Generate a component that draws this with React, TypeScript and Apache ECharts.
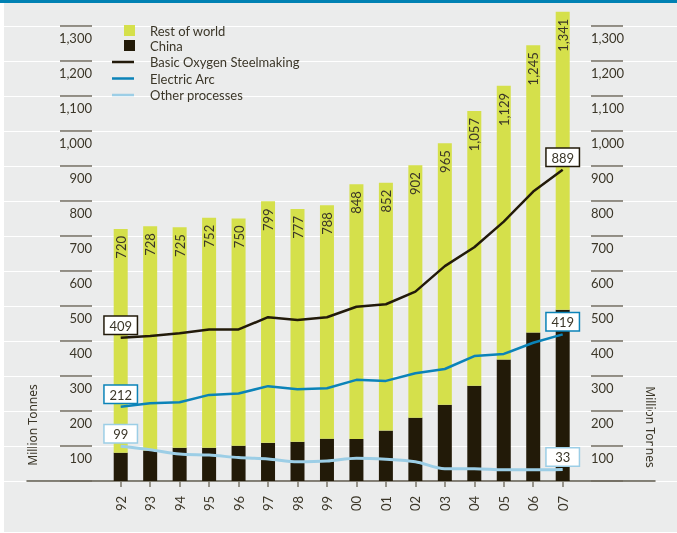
import React, { useEffect, useRef } from "react";
import * as echarts from "echarts";

const categories = ["92", "93", "94", "95", "96", "97", "98", "99", "00", "01", "02", "03", "04", "05", "06", "07"];
const totals = [720, 728, 725, 752, 750, 799, 777, 788, 848, 852, 902, 965, 1057, 1129, 1245, 1341];
const china = [81, 87, 95, 95, 101, 109, 112, 121, 120, 144, 181, 218, 272, 347, 424, 489];
const basicOxygen = [409, 414, 422, 433, 433, 468, 460, 468, 498, 505, 541, 614, 668, 741, 827, 889];
const electricArc = [212, 222, 225, 246, 250, 271, 262, 265, 289, 286, 308, 320, 357, 363, 395, 419];
const otherProcesses = [99, 89, 77, 74, 67, 63, 55, 57, 65, 62, 55, 35, 35, 32, 32, 33];
const yMin = 0;
const yMax = 1300;
const yStep = 100;

const FONT = "Lato, 'Noto Sans', sans-serif";
const FONT2 = "'Noto Sans', 'Open Sans', sans-serif";
const TEXT = "#3b3628";
const C_ROW = "#d5e04b";
const C_CHINA = "#221a08";
const C_BOS = "#221a0a";
const C_EAF = "#0b83b8";
const C_OTHER = "#9ccee6";

export default function App() {
  const ref = useRef<HTMLDivElement>(null);
  useEffect(() => {
    if (!ref.current) return;
    const chart = echarts.init(ref.current, undefined, { renderer: "svg" });
    const rest = totals.map((t, i) => t - china[i]);

    const lineData = (arr: number[], color: string) =>
      arr.map((v, i) => {
        const item: any = { value: v };
        if (i === 0 || i === arr.length - 1) {
          item.label = {
            show: true,
            position: "top",
            distance: 4,
            formatter: String(v),
            color: TEXT,
            fontFamily: FONT,
            fontSize: 13,
            backgroundColor: "#ffffff",
            borderColor: color,
            borderWidth: 1.5,
            width: 22,
            align: "center",
            padding: [2, 5, 1, 5],
            lineHeight: 14,
          };
        }
        return item;
      });

    const axisLabelFmt = (v: number) => (v === 0 ? "" : v.toLocaleString("en-US"));

    const lineSeries = (name: string, arr: number[], color: string, width: number, smooth: number | boolean) => ({
      name,
      type: "line",
      xAxisIndex: 2,
      yAxisIndex: 3,
      symbol: "circle",
      symbolSize: 0,
      showSymbol: true,
      smooth,
      clip: false,
      z: 5,
      lineStyle: { color, width },
      itemStyle: { color },
      data: lineData(arr, color),
    });

    chart.setOption({
      animation: false,
      backgroundColor: "transparent",
      textStyle: { fontFamily: FONT },
      graphic: [
        { type: "rect", z: -10, shape: { x: 4, y: 0, width: 673, height: 532 }, style: { fill: "#ebecec" } },
        { type: "rect", z: 10, shape: { x: 0, y: 0, width: 677, height: 3 }, style: { fill: "#0081b3" } },
        {
          type: "text",
          x: 32,
          y: 425,
          rotation: Math.PI / 2,
          style: { text: "Million Tonnes", fill: TEXT, fontSize: 12, fontFamily: FONT2, align: "center", verticalAlign: "middle" },
        },
        {
          type: "text",
          x: 650,
          y: 427,
          rotation: -Math.PI / 2,
          style: { text: "Million Tonnes", fill: TEXT, fontSize: 12, fontFamily: FONT2, align: "center", verticalAlign: "middle" },
        },
      ],
      legend: [
        {
          orient: "vertical",
          left: 124,
          top: 23,
          padding: 0,
          itemWidth: 11,
          itemHeight: 11,
          itemGap: 0,
          icon: "rect",
          data: ["Rest of world", "China"],
          textStyle: { color: TEXT, fontSize: 13, fontFamily: FONT, lineHeight: 15, padding: [0, 0, 0, 10] },
        },
        {
          orient: "vertical",
          left: 112,
          top: 54.5,
          padding: 0,
          itemWidth: 22,
          itemHeight: 2.5,
          itemGap: 1.5,
          icon: "rect",
          data: ["Basic Oxygen Steelmaking", "Electric Arc", "Other processes"],
          textStyle: { color: TEXT, fontSize: 13, fontFamily: FONT, lineHeight: 15, padding: [0, 0, 0, 11] },
        },
      ],
      grid: [
        { left: 0, right: 0, top: 26, bottom: 52 },
        { left: 27, right: 22, top: 26, bottom: 52 },
        { left: 105.97, right: 99.57, top: 26, bottom: 52 },
      ],
      xAxis: [
        { type: "value", gridIndex: 0, show: false, min: 0, max: 1 },
        {
          type: "value",
          gridIndex: 1,
          min: 0,
          max: 1,
          splitLine: { show: false },
          axisLine: { show: true, lineStyle: { color: "#5e594c", width: 1.5 } },
          axisTick: { show: false },
          axisLabel: { show: false },
        },
        {
          type: "category",
          gridIndex: 2,
          data: categories,
          axisLine: { show: false },
          axisTick: { show: true, alignWithLabel: true, interval: 0, length: 6, lineStyle: { color: "#7a766a", width: 1.5 } },
          axisLabel: {
            interval: 0,
            rotate: 90,
            margin: 15,
            color: TEXT,
            fontSize: 13,
            fontFamily: FONT,
          },
        },
      ],
      yAxis: [
        {
          type: "value",
          gridIndex: 0,
          position: "left",
          offset: -92,
          min: yMin,
          max: yMax,
          interval: yStep,
          axisLine: { show: false },
          splitLine: { show: true, lineStyle: { color: "#ffffff", width: 1.2 } },
          axisTick: { show: true, length: 32, lineStyle: { color: "#726d60", width: 1.5 } },
          axisLabel: {
            formatter: axisLabelFmt,
            margin: 0,
            align: "right",
            verticalAlign: "top",
            padding: [5, 0, 0, 0],
            color: TEXT,
            fontSize: 13,
            fontFamily: FONT,
          },
        },
        {
          type: "value",
          gridIndex: 0,
          position: "right",
          offset: -86,
          min: yMin,
          max: yMax,
          interval: yStep,
          axisLine: { show: false },
          splitLine: { show: false },
          axisTick: { show: true, length: 32, lineStyle: { color: "#726d60", width: 1.5 } },
          axisLabel: {
            formatter: axisLabelFmt,
            margin: 0,
            align: "left",
            verticalAlign: "top",
            padding: [5, 0, 0, 0],
            color: TEXT,
            fontSize: 13,
            fontFamily: FONT,
          },
        },
        { type: "value", gridIndex: 1, min: yMin, max: yMax, show: false, splitLine: { show: false } },
        { type: "value", gridIndex: 2, min: yMin, max: yMax, interval: yStep, show: false, splitLine: { show: false } },
      ],
      series: [
        {
          name: "China",
          type: "bar",
          xAxisIndex: 2,
          yAxisIndex: 3,
          stack: "total",
          barWidth: 14,
          clip: false,
          itemStyle: { color: C_CHINA },
          data: china,
        },
        {
          name: "Rest of world",
          type: "bar",
          xAxisIndex: 2,
          yAxisIndex: 3,
          stack: "total",
          barWidth: 14,
          clip: false,
          itemStyle: { color: C_ROW },
          label: {
            show: true,
            position: "insideTop",
            distance: 7,
            rotate: 90,
            align: "right",
            verticalAlign: "middle",
            formatter: (p: any) => totals[p.dataIndex].toLocaleString("en-US"),
            color: TEXT,
            fontSize: 13,
            fontFamily: FONT,
          },
          data: rest,
        },
        lineSeries("Basic Oxygen Steelmaking", basicOxygen, C_BOS, 2.5, false),
        lineSeries("Electric Arc", electricArc, C_EAF, 2.5, false),
        lineSeries("Other processes", otherProcesses, C_OTHER, 3, 0.3),
      ],
    });
    return () => chart.dispose();
  }, []);
  return <div ref={ref} style={{ position: "fixed", left: 0, top: 0, width: 677, height: 533 }} />;
}
